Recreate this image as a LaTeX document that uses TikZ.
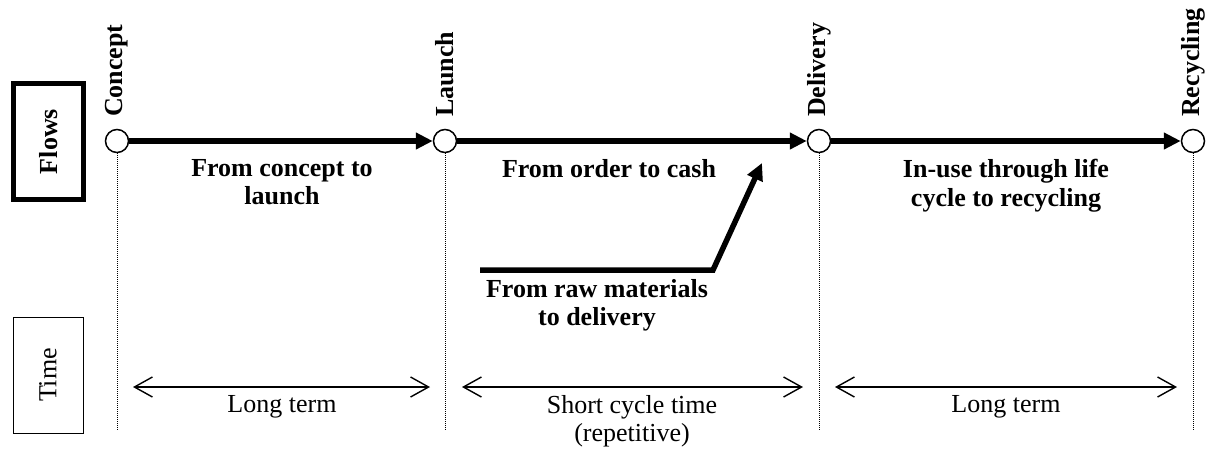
\documentclass[tikz,border=0pt]{standalone}
\usepackage{fontspec}
\setmainfont{Liberation Serif}
\usetikzlibrary{arrows.meta}
\begin{document}
\begin{tikzpicture}[x=1pt,y=-1pt,
  boldtext/.style={font=\fontsize{26}{28.5}\selectfont\bfseries},
  regtext/.style={font=\fontsize{26}{28}\selectfont},
  milestone/.style={circle, draw, line width=1.5pt, fill=white, minimum size=23pt, inner sep=0pt},
  mlabel/.style={boldtext, rotate=90, anchor=west, inner sep=0pt},
  flowlabel/.style={boldtext, align=center, anchor=north, inner sep=0pt},
  timelabel/.style={regtext, align=center, anchor=north, inner sep=0pt},
  flow/.style={line width=5.5pt, -{Triangle[length=17pt,width=16pt]}},
  guide/.style={line width=1pt, dash pattern=on 1pt off 1pt},
  span/.style={line width=1.4pt, {Straight Barb[length=18pt,width=20pt]}-{Straight Barb[length=18pt,width=20pt]}},
]
\useasboundingbox (0,0) rectangle (1211,448);

% side boxes
\node[draw, line width=5pt, minimum width=70pt, minimum height=116pt, inner sep=0pt] (flowsbox) at (48.5,141.5) {};
\node[boldtext, rotate=90] (flowstext) at (flowsbox.center) {Flows};
\node[draw, line width=1pt, minimum width=70pt, minimum height=116pt, inner sep=0pt] (timebox) at (48,375) {};
\node[regtext, rotate=90] (timetext) at (timebox.center) {Time};

% guide end points
\coordinate (g1) at (117,430);
\coordinate (g2) at (445,430);
\coordinate (g3) at (819,430);
\coordinate (g4) at (1193,430);

% milestones
\node[milestone] (concept) at (117,141) {};
\node[milestone] (launch) at (445,141) {};
\node[milestone] (delivery) at (819,141) {};
\node[milestone] (recycling) at (1193,141) {};

% guides
\draw[guide] (concept.south) -- (g1);
\draw[guide] (launch.south) -- (g2);
\draw[guide] (delivery.south) -- (g3);
\draw[guide] (recycling.south) -- (g4);

\node[mlabel] (lconcept) at (117,117) {Concept};
\node[mlabel] (llaunch) at (445,117) {Launch};
\node[mlabel] (ldelivery) at (819,117) {Delivery};
\node[mlabel] (lrecycling) at (1193,117) {Recycling};

% main flows
\draw[flow] (concept) -- (launch);
\draw[flow] (launch) -- (delivery);
\draw[flow] (delivery) -- (recycling);

\node[flowlabel] (f1) at (282,159) {From concept to\\launch};
\node[flowlabel] (f2) at (609,159) {From order to cash};
\node[flowlabel] (f3) at (1006,159) {In-use through life\\cycle to recycling};

% raw materials flow
\coordinate (rawstart) at (480,270);
\coordinate (rawbend) at (713,270);
\coordinate (rawtip) at (762,163);
\draw[flow, line join=miter] (rawstart) -- (rawbend) -- (rawtip);
\node[flowlabel] (f4) at (597,279) {From raw materials\\to delivery};

% time spans
\coordinate (t1a) at (133,387);
\coordinate (t1b) at (430,387);
\coordinate (t2a) at (462,387);
\coordinate (t2b) at (803,387);
\coordinate (t3a) at (835,387);
\coordinate (t3b) at (1177,387);
\draw[span] (t1a) -- (t1b);
\draw[span] (t2a) -- (t2b);
\draw[span] (t3a) -- (t3b);
\node[timelabel] (s1) at (282,395) {Long term};
\node[timelabel] (s2) at (632,395) {Short cycle time\\(repetitive)};
\node[timelabel] (s3) at (1006,395) {Long term};
\end{tikzpicture}
\end{document}
